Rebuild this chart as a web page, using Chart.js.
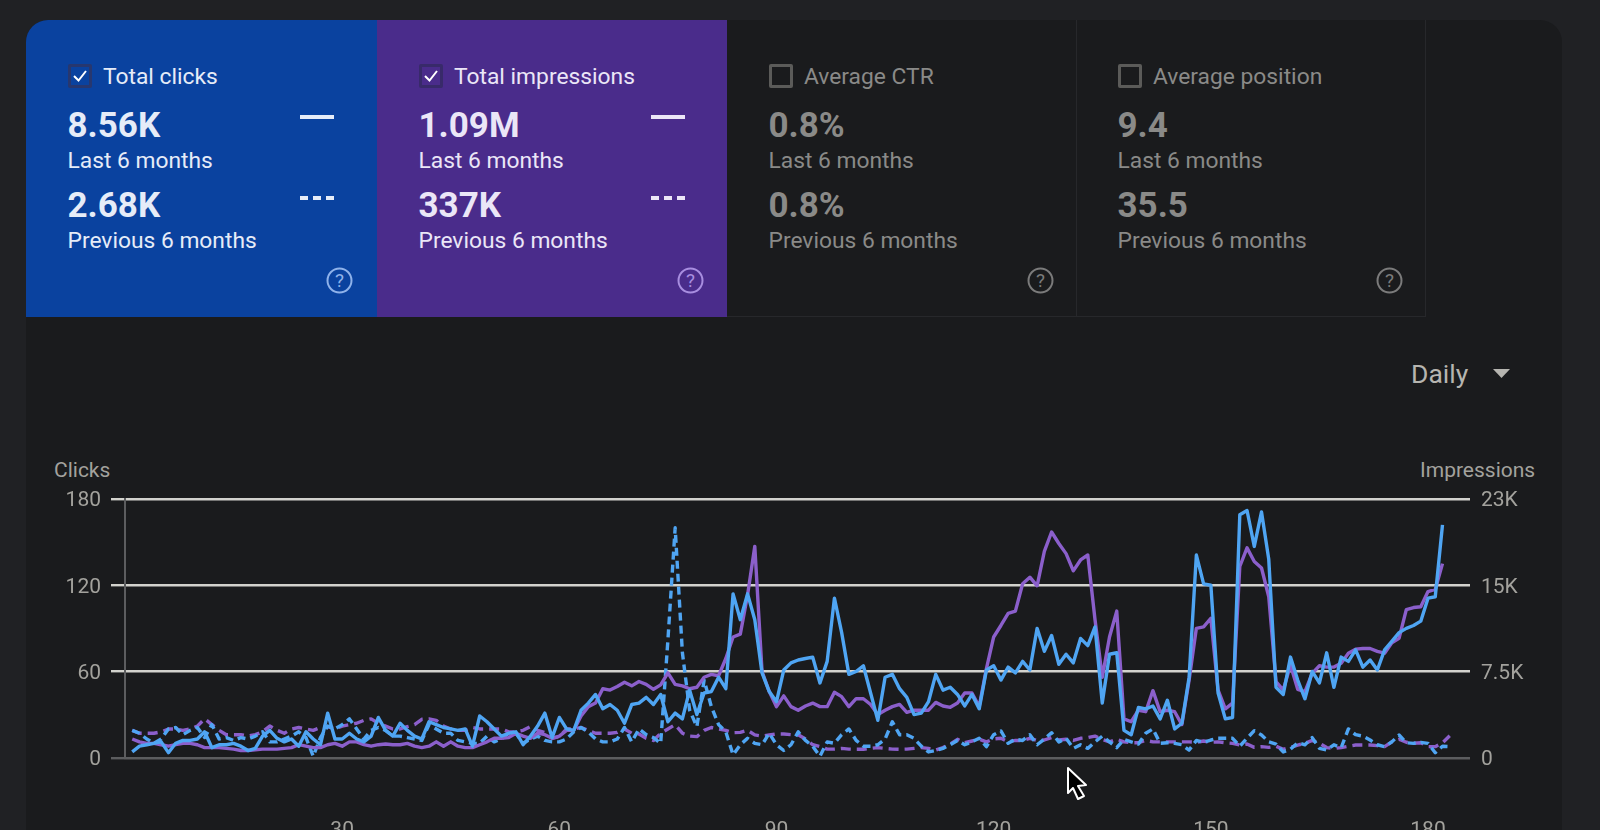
<!DOCTYPE html>
<html>
<head>
<meta charset="utf-8">
<title>Search performance</title>
<script src="https://cdn.jsdelivr.net/npm/chart.js@4"></script>
<style>
    html, body { margin: 0; width: 1600px; height: 830px; overflow: hidden; background: #202124; font-family: Roboto, sans-serif; }
    #panel { position: absolute; left: 26px; top: 20px; width: 1536px; height: 830px; background: #1a1b1d; border-radius: 22px 22px 0 0; overflow: hidden; }
    .card { position: absolute; top: 20px; height: 297px; width: 350px; box-sizing: border-box; }
    .card.off { border-right: 1px solid #27282b; border-bottom: 1px solid #27282b; color: #8a8a88; }
    .card.clicks { background: #0a429f; color: #e6ecf8; border-top-left-radius: 22px; width: 351px; }
    .card.impressions { background: #4a2c8b; color: #ebe6f7; }
    .t { position: absolute; white-space: nowrap; line-height: 1; }
    .title { font-size: 22.8px; left: 77px; top: 46px; }
    .value { font-size: 35px; font-weight: 700; left: 41.5px; }
    .period { font-size: 22.8px; left: 41.5px; }
    .box { position: absolute; left: 42px; top: 44px; width: 24px; height: 24px; box-sizing: border-box; border: 3px solid #5b5b59; border-radius: 2px; }
    .clicks .box { border-color: #27376f; }
    .impressions .box { border-color: #382a6a; }
    .swatch { position: absolute; left: 274px; width: 34px; height: 0; border-top: 4px solid currentColor; }
    .swatch.dash { border-top-style: dashed; }
    .help { position: absolute; left: 300px; top: 247px; }
    #chartWrap { position: absolute; left: 0; top: 400px; width: 1600px; height: 480px; }
    .axisName { position: absolute; top: 460px; font-size: 21px; line-height: 1; color: #a3a29d; }
    #daily { position: absolute; left: 1411px; top: 361px; font-size: 26.5px; line-height: 1; color: #b6b5b0; }
    #caret { position: absolute; left: 1493px; top: 369px; }
    #pointer { position: absolute; left: 1066px; top: 766px; }
</style>
</head>
<body>
<div id="panel"></div>
<div id="cards"></div>
<div id="daily">Daily</div>
<svg id="caret" width="18" height="10"><polygon points="0,0 17,0 8.5,9" fill="#b6b5b0"/></svg>
<div class="axisName" style="left:54px">Clicks</div>
<div class="axisName" style="left:1420px">Impressions</div>
<div id="chartWrap"><canvas id="perfChart" width="1600" height="480"></canvas></div>
<svg id="pointer" width="24" height="36"><polygon points="2,2 20,19 12,20 18,30 12,33 7,22 2,27" fill="#000" stroke="#fff" stroke-width="2" stroke-linejoin="round"/></svg>

<script>
// summary cards
const cardTitles = ['Total clicks', 'Total impressions', 'Average CTR', 'Average position'];
const cardClasses = ['clicks', 'impressions', 'off', 'off'];
const cardLefts = [26, 377, 727, 1076];
const lastValues = ['8.56K', '1.09M', '0.8%', '9.4'];
const prevValues = ['2.68K', '337K', '0.8%', '35.5'];
const helpColors = ['#8fb2ea', '#a88ee0', '#7b7b7b', '#7b7b7b'];

// axis ticks
const xTicks = [30, 60, 90, 120, 150, 180];
const clickTicks = [0, 60, 120, 180];
const impressionTicks = [0, 7500, 15000, 22500];
const impressionLabels = ['0', '7.5K', '15K', '23K'];

// daily values, one per day
const clicksLast = [
    4, 8, 9, 10, 11, 3.5, 10, 12, 12, 13, 18, 7, 9, 9, 10, 8, 5, 6.5, 15, 19,
    13.5, 11, 13, 8, 18, 13, 9, 31, 13, 13, 17, 13, 11, 15, 28, 19, 15, 24, 19, 15,
    13, 25, 23, 21, 20, 19, 20, 8, 29, 25, 20, 15, 17, 18, 9, 15, 22, 31, 14, 28,
    20, 19, 33, 38, 44, 34, 37, 33, 24, 37, 38, 42, 37, 44, 25, 31, 27, 47, 30, 45,
    46, 56, 48, 114, 96, 114, 96, 59, 46, 39, 61, 66, 68, 69, 70, 52, 67, 111, 87, 58,
    60, 64, 45, 26, 56, 58, 48, 42, 30, 31, 39, 58, 47, 49, 44, 36, 44, 34, 61, 64,
    54, 63, 59, 67, 61, 90, 74, 85, 65, 72, 66, 83, 78, 91, 38, 72, 73, 19, 16, 35,
    34, 36, 27, 40, 20, 24, 56, 141, 121, 120, 45, 27, 28, 169, 172, 147, 171, 138, 49, 44,
    70, 54, 41, 60, 52, 73, 49, 70, 67, 75, 63, 68, 61, 75, 81, 87, 90, 92, 95, 111,
    112, 162
];
const impressionsLast = [
    1630, 1380, 1250, 1250, 1130, 1000, 1130, 1250, 1250, 1130, 880, 880, 880, 810, 750, 630, 630, 690, 750, 750,
    750, 810, 880, 1130, 1000, 880, 880, 1130, 1250, 1000, 1380, 1380, 1130, 1000, 1130, 1190, 1130, 1130, 1250, 1000,
    880, 1000, 1380, 1000, 1380, 1000, 880, 880, 1130, 1380, 1690, 1690, 1750, 2130, 1880, 1690, 2130, 2000, 1690, 1880,
    2380, 2380, 3630, 4440, 4750, 6000, 5880, 6190, 6560, 6250, 6630, 6380, 5950, 6330, 7380, 6380, 6250, 6000, 6130, 7000,
    7250, 7130, 8630, 10500, 10750, 14130, 18380, 7500, 5750, 4440, 5380, 4440, 4130, 4500, 4750, 4440, 4440, 5690, 5310, 4440,
    5130, 5130, 4630, 3750, 4130, 4440, 4630, 3940, 4130, 4130, 4130, 4810, 4500, 4380, 4750, 5630, 5630, 4440, 7750, 10500,
    11500, 12560, 12750, 15130, 15700, 14950, 17940, 19630, 18630, 17750, 16250, 17200, 17630, 12000, 7000, 10500, 12750, 3380, 3130, 4130,
    4000, 5830, 4000, 4130, 4000, 2880, 6750, 11250, 11380, 12130, 5880, 4250, 4750, 16630, 18250, 17060, 16500, 14000, 6630, 5880,
    8060, 5950, 5750, 7340, 8000, 7880, 7880, 8210, 9090, 9440, 9500, 9500, 9250, 9090, 10000, 10380, 12880, 13060, 13130, 14450,
    14630, 16880
];
const clicksPrev = [
    19, 17, 13, 10, 13, 20, 21, 16, 19, 21, 14, 23, 13, 14, 12, 14, 13, 15, 18, 11,
    11, 13, 15, 18, 14, 1, 14, 22, 20, 23, 27, 20, 13, 19, 21, 19, 15, 15, 14, 13,
    12, 23, 20, 17, 17, 12, 11, 10, 10, 15, 11, 13, 17, 17, 10, 13, 15, 12, 11, 11,
    13, 18, 21, 18, 13, 11, 11, 13, 21, 11, 20, 16, 14, 10, 82, 160, 73, 33, 21.6, 54,
    35.5, 23, 18, 2, 9, 13.5, 10, 9, 17, 9, 5, 9, 18, 12, 8, 1, 11, 10, 16, 20,
    12, 8, 8, 9, 13, 25, 16, 16, 13.5, 8, 4, 5, 6.5, 9, 12, 9, 11, 13.5, 7.7, 16,
    18.6, 10, 12.8, 12, 16, 9, 13, 17.4, 11, 13.5, 6.5, 9, 6.5, 11, 15, 11, 7, 12.8, 11, 9.5,
    17, 20, 10, 10.4, 10, 9, 5.3, 12, 10.7, 12.3, 13.5, 13.5, 13.5, 8, 13.5, 18.8, 15.8, 11, 9.5, 4,
    6, 10.4, 9, 14, 6.5, 5.3, 9, 7, 20, 16, 15, 12.3, 9, 7.7, 11, 15.8, 10.4, 10, 10.7, 10,
    3.5, 8, 7.7
];
const impressionsPrev = [
    2380, 2130, 2130, 2130, 2250, 2500, 2500, 2380, 2500, 2750, 3380, 2880, 2380, 2000, 2000, 2000, 1880, 2000, 2250, 2750,
    2380, 2130, 2500, 2630, 2500, 2380, 2630, 2700, 2500, 2750, 2880, 3000, 3250, 3380, 3000, 2750, 2500, 2500, 2700, 2880,
    3340, 3380, 3250, 2750, 2500, 2380, 2380, 2630, 2500, 2500, 2500, 2500, 2250, 2250, 2380, 2700, 2380, 2180, 1690, 1830,
    2500, 2500, 2630, 2380, 2130, 2130, 2130, 2200, 2500, 2130, 2060, 1690, 1500, 2130, 2500, 2880, 2130, 1880, 1830, 2380,
    2630, 2500, 2380, 2180, 2200, 2380, 1980, 1880, 1980, 2060, 2060, 2000, 2000, 1630, 1130, 960, 750, 750, 810, 750,
    730, 730, 810, 880, 810, 750, 730, 750, 810, 880, 810, 660, 880, 1190, 1600, 1300, 1450, 1600, 1380, 1630,
    1690, 1380, 1500, 1500, 1690, 1500, 1540, 1750, 1540, 1600, 1500, 1690, 1750, 1880, 1600, 1380, 1600, 1380, 1300, 1300,
    1500, 1380, 1380, 1380, 1380, 1380, 1380, 1340, 1450, 1340, 1380, 1300, 1250, 1100, 1190, 900, 960, 900, 1000, 730,
    900, 1100, 1250, 1500, 1250, 880, 810, 880, 1000, 1100, 1100, 1100, 1050, 960, 1380, 1600, 1340, 1250, 1300, 960,
    960, 1300, 1910
];

const BLUE = '#4fa5f3';
const PURPLE = '#8b5fcb';
const TICK_COLOR = '#a3a29d';

function addText(parent, cls, text, top) {
    const el = document.createElement('div');
    el.className = 't ' + cls;
    el.textContent = text;
    if (top !== undefined) el.style.top = top + 'px';
    parent.appendChild(el);
}

function buildCards() {
    const root = document.getElementById('cards');
    cardTitles.forEach((title, i) => {
        const card = document.createElement('div');
        card.className = 'card ' + cardClasses[i];
        card.style.left = cardLefts[i] + 'px';

        const box = document.createElement('div');
        box.className = 'box';
        if (i < 2) {
            box.innerHTML = '<svg width="18" height="18" style="display:block"><polyline points="3,9 7.5,13.5 15,4" fill="none" stroke="#fff" stroke-width="2"/></svg>';
        }
        card.appendChild(box);

        addText(card, 'title', title);
        addText(card, 'value', lastValues[i], 88);
        addText(card, 'period', 'Last 6 months', 130);
        addText(card, 'value', prevValues[i], 168);
        addText(card, 'period', 'Previous 6 months', 210);

        if (i < 2) {
            const solid = document.createElement('div');
            solid.className = 'swatch';
            solid.style.top = '95px';
            card.appendChild(solid);
            const dash = document.createElement('div');
            dash.className = 'swatch dash';
            dash.style.top = '176px';
            card.appendChild(dash);
        }

        const c = helpColors[i];
        card.insertAdjacentHTML('beforeend',
            `<svg class="help" width="27" height="27"><circle cx="13.5" cy="13.5" r="12" fill="none" stroke="${c}" stroke-width="2"/><text x="13.5" y="20" text-anchor="middle" font-family="Roboto" font-size="19" fill="${c}">?</text></svg>`);
        root.appendChild(card);
    });
}

function toPoints(values) {
    return values.map((v, i) => ({ x: i + 1, y: v }));
}

// two-line tick label with a short line height: sits the text 2px below its gridline
function nudged(text) {
    return ['', text];
}

function renderChart() {
    const ctx = document.getElementById('perfChart').getContext('2d');
    const tickFont = { family: 'Roboto', size: 21 };
    const sideFont = { family: 'Roboto', size: 21, lineHeight: 0.2 };

    new Chart(ctx, {
        type: 'line',
        data: {
            datasets: [
                { label: 'Clicks', data: toPoints(clicksLast), borderColor: BLUE, yAxisID: 'y' },
                { label: 'Impressions', data: toPoints(impressionsLast), borderColor: PURPLE, yAxisID: 'y1' },
                { label: 'Clicks (previous)', data: toPoints(clicksPrev), borderColor: BLUE, borderDash: [8, 5], yAxisID: 'y' },
                { label: 'Impressions (previous)', data: toPoints(impressionsPrev), borderColor: PURPLE, borderDash: [10, 6], yAxisID: 'y1' }
            ]
        },
        options: {
            responsive: false,
            animation: false,
            layout: { padding: { top: 99 } },
            elements: {
                point: { radius: 0 },
                line: { borderWidth: 3.4, tension: 0, borderJoinStyle: 'round' }
            },
            plugins: { legend: { display: false }, tooltip: { enabled: false } },
            scales: {
                x: {
                    type: 'linear',
                    min: 0,
                    max: 185.8,
                    grid: { display: false },
                    border: { display: false },
                    afterBuildTicks: scale => { scale.ticks = xTicks.map(v => ({ value: v })); },
                    afterFit: scale => { scale.height = 122.3; },
                    ticks: { color: TICK_COLOR, font: tickFont, padding: 52, maxRotation: 0, autoSkip: false, callback: v => String(v) }
                },
                y: {
                    position: 'left',
                    min: 0,
                    max: 180,
                    afterBuildTicks: scale => { scale.ticks = clickTicks.map(v => ({ value: v })); },
                    afterFit: scale => { scale.width = 125; },
                    border: { display: true, color: '#5c5d5f', width: 2 },
                    grid: {
                        color: c => c.tick.value === 0 ? '#5c5d5f' : '#d2d2cd',
                        lineWidth: 2.4,
                        tickLength: 14
                    },
                    ticks: { color: TICK_COLOR, font: sideFont, padding: 10, callback: v => nudged(String(v)) }
                },
                y1: {
                    position: 'right',
                    min: 0,
                    max: 22500,
                    afterBuildTicks: scale => { scale.ticks = impressionTicks.map(v => ({ value: v })); },
                    afterFit: scale => { scale.width = 130; },
                    border: { display: false },
                    grid: { display: false },
                    ticks: {
                        color: TICK_COLOR,
                        font: sideFont,
                        padding: 3,
                        callback: v => nudged(impressionLabels[impressionTicks.indexOf(v)])
                    }
                }
            }
        }
    });
}

buildCards();
renderChart();
</script>
</body>
</html>
